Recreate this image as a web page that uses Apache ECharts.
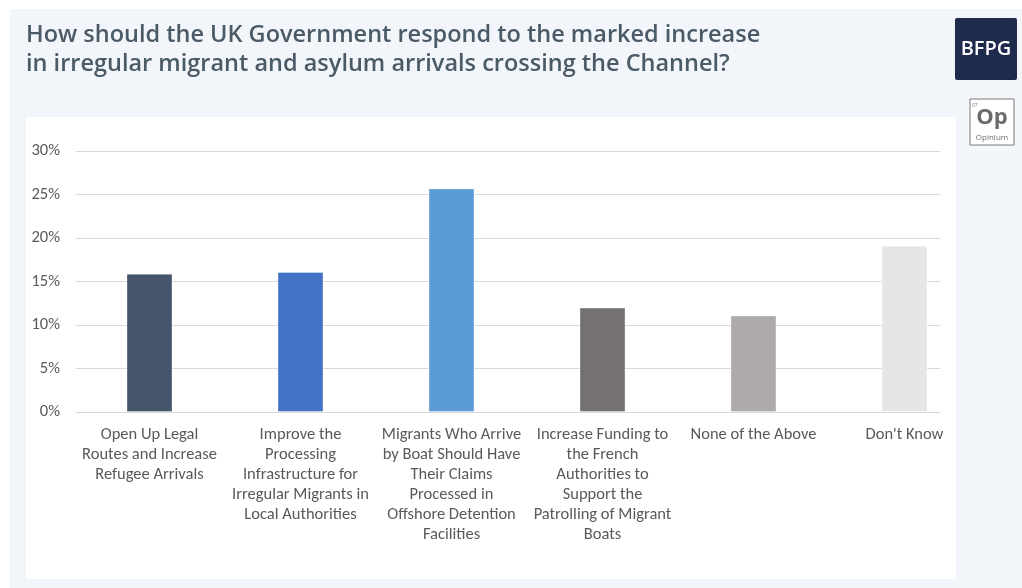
<!DOCTYPE html>
<html>
<head>
<meta charset="utf-8">
<script src="https://cdn.jsdelivr.net/npm/echarts@6/dist/echarts.min.js"></script>
<style>
  html, body { margin: 0; padding: 0; background: #ffffff; }
  #chart { width: 1022px; height: 588px; }
</style>
</head>
<body>
<div id="chart"></div>
<script>
// Survey responses: preferred UK Government response to Channel crossings
const categories = [
  'Open Up Legal\nRoutes and Increase\nRefugee Arrivals',
  'Improve the\nProcessing\nInfrastructure for\nIrregular Migrants in\nLocal Authorities',
  'Migrants Who Arrive\nby Boat Should Have\nTheir Claims\nProcessed in\nOffshore Detention\nFacilities',
  'Increase Funding to\nthe French\nAuthorities to\nSupport the\nPatrolling of Migrant\nBoats',
  'None of the Above',
  "Don't Know"
];
const shares = [15.9, 16.1, 25.7, 12.0, 11.1, 19.1];
const barColors = ['#44546a', '#4472c4', '#5b9bd5', '#767171', '#aeaaaa', '#e7e6e6'];
const yTicks = { min: 0, max: 30, interval: 5 };

const chart = echarts.init(document.getElementById('chart'), null, { renderer: 'canvas' });

const axisFont = 'Carlito, Lato, "Liberation Sans", sans-serif';
const labelColor = '#595959';
const gridColor = '#d9d9d9';

chart.setOption({
  animation: false,
  backgroundColor: '#ffffff',
  title: {
    text: 'How should the UK Government respond to the marked increase\nin irregular migrant and asylum arrivals crossing the Channel?',
    left: 26,
    top: 21,
    padding: 0,
    textStyle: {
      fontFamily: '"Open Sans", sans-serif',
      fontWeight: 600,
      fontSize: 23.5,
      lineHeight: 29,
      color: '#4a5a67'
    }
  },
  graphic: [
    // page panel and white chart card
    { type: 'rect', z: -10, silent: true, shape: { x: 10, y: 9, width: 1012, height: 579 }, style: { fill: '#f2f5f9' } },
    { type: 'rect', z: -9, silent: true, shape: { x: 26, y: 117, width: 930, height: 462 }, style: { fill: '#ffffff' } },
    // BFPG badge
    { type: 'rect', z: 5, shape: { x: 955, y: 18, width: 62, height: 62, r: 2 }, style: { fill: '#1f2b4d' } },
    { type: 'text', z: 6, style: { x: 986, y: 49, text: 'BFPG', fill: '#ffffff', font: '600 20px "Open Sans", sans-serif', align: 'center', verticalAlign: 'middle' } },
    // Opinium badge
    { type: 'rect', z: 5, shape: { x: 970, y: 99, width: 44, height: 46 }, style: { fill: '#ffffff', stroke: '#7a7a7a', lineWidth: 1 } },
    { type: 'text', z: 6, style: { x: 972, y: 103, text: '07', fill: '#7a7a7a', font: '5px "Open Sans", sans-serif', align: 'left', verticalAlign: 'top' } },
    { type: 'text', z: 6, style: { x: 992, y: 118, text: 'Op', fill: '#6b6b6b', font: 'bold 22px "Open Sans", sans-serif', align: 'center', verticalAlign: 'middle' } },
    { type: 'text', z: 6, style: { x: 992, y: 138, text: 'Opinium', fill: '#6b6b6b', font: '8px "Open Sans", sans-serif', align: 'center', verticalAlign: 'middle' } }
  ],
  // grid 0: visible frame (value ticks, gridlines, baseline); grid 1: the bar columns
  grid: [
    { left: 76, right: 82, top: 151, bottom: 176, containLabel: false },
    { left: 74, right: 42, top: 151, bottom: 176, containLabel: false }
  ],
  xAxis: [
    {
      gridIndex: 0,
      type: 'category',
      data: categories,
      axisLine: { lineStyle: { color: gridColor, width: 1 } },
      axisTick: { show: false },
      axisLabel: { show: false }
    },
    {
      gridIndex: 1,
      type: 'category',
      data: categories,
      axisLine: { show: false },
      axisTick: { show: false },
      axisLabel: {
        interval: 0,
        margin: 13,
        fontFamily: axisFont,
        fontSize: 16.5,
        lineHeight: 20,
        color: labelColor,
        align: 'center'
      }
    }
  ],
  yAxis: [
    {
      gridIndex: 0,
      type: 'value',
      min: yTicks.min,
      max: yTicks.max,
      interval: yTicks.interval,
      axisLine: { show: false },
      axisTick: { show: false },
      splitLine: { lineStyle: { color: gridColor, width: 1 } },
      axisLabel: {
        margin: 16,
        fontFamily: axisFont,
        fontSize: 16.5,
        color: labelColor,
        formatter: '{value}%'
      }
    },
    {
      gridIndex: 1,
      type: 'value',
      min: yTicks.min,
      max: yTicks.max,
      interval: yTicks.interval,
      show: false,
      splitLine: { show: false }
    }
  ],
  series: [{
    type: 'bar',
    xAxisIndex: 1,
    yAxisIndex: 1,
    data: shares.map((v, i) => ({ value: v, itemStyle: { color: barColors[i] } })),
    barWidth: 46,
    itemStyle: { borderColor: 'rgba(255,255,255,0.35)', borderWidth: 1 }
  }]
});
</script>
</body>
</html>
